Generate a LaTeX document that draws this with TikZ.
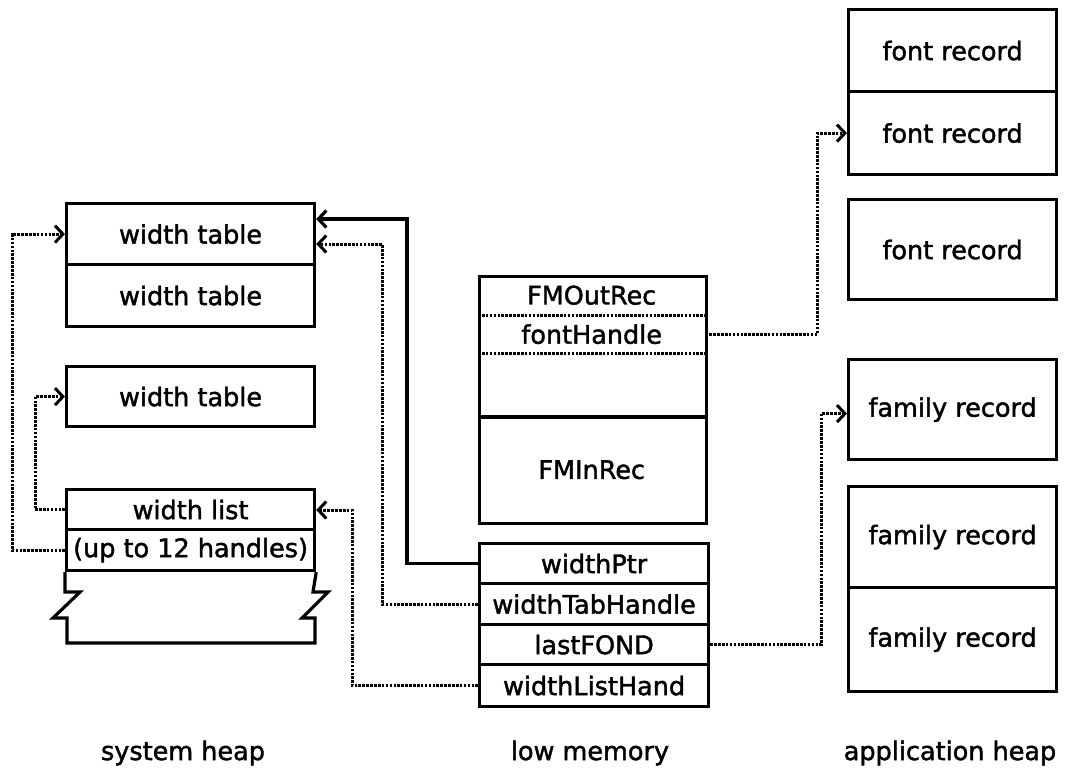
\documentclass[tikz,border=0pt]{standalone}
\usepackage{fontspec}
\setmainfont[FakeBold=1.6]{DejaVu Sans}
\usetikzlibrary{arrows.meta,calc}
\begin{document}
\begin{tikzpicture}[x=1pt,y=-1pt,
  txt/.style={font=\fontsize{25.5}{30}\selectfont},
  box/.style={txt,draw,line width=3.2pt,rectangle,inner sep=0pt,anchor=north west},
  field/.style={txt,rectangle,inner sep=0pt,anchor=north west},
  tip/.style={-{Straight Barb[length=8pt,width=17pt]}},
  link/.style={tip,line width=3.2pt},
  dotlink/.style={tip,line width=3pt,dash pattern=on 2.6pt off 1.3pt},
  dotrule/.style={line width=3pt,dash pattern=on 2.6pt off 1.3pt}]
\useasboundingbox (0,0) rectangle (1076,780);

% ---------------- system heap ----------------
\node[box,minimum width=248pt,minimum height=61pt] (wt1) at (65,202) {width table};
\node[box,minimum width=248pt,minimum height=62pt] (wt2) at (65,263) {width table};
\node[box,minimum width=248pt,minimum height=60pt] (wt3) at (65,365) {width table};
\node[box,minimum width=248pt,minimum height=40pt] (wl) at (65,488) {width list};
\node[box,minimum width=248pt,minimum height=41pt] (uth) at (65,528) {(up to 12 handles)};
% open-ended continuation of the width list
\draw[line width=3.2pt,line join=miter]
  (uth.south west) -- (65,592) -- (80,592) -- (53,618) -- (67,618) -- (67,643)
  -- (315,643) -- (315,618) -- (302,618) -- (328,592) -- (313,592) -- (uth.south east);

% ---------------- low memory ----------------
\node[draw,line width=3.2pt,rectangle,inner sep=0pt,anchor=north west,
      minimum width=227pt,minimum height=247pt] (lowA) at (478,275) {};
\node[field,minimum width=227pt,minimum height=40pt] (fmo) at (478,275) {FMOutRec};
\node[field,minimum width=227pt,minimum height=38pt] (fh) at (478,315) {fontHandle};
\node[field,minimum width=227pt,minimum height=105pt] (fmi) at (478,417) {FMInRec};
\draw[dotrule] (fh.north west) -- (fh.north east);
\draw[dotrule] (fh.south west) -- (fh.south east);
\draw[line width=3.2pt] (fmi.north west) -- (fmi.north east);

\node[box,minimum width=229pt,minimum height=40pt] (wptr) at (478,542) {widthPtr};
\node[box,minimum width=229pt,minimum height=41pt] (wth) at (478,582) {widthTabHandle};
\node[box,minimum width=229pt,minimum height=40pt] (lf) at (478,623) {lastFOND};
\node[box,minimum width=229pt,minimum height=42pt] (wlh) at (478,663) {widthListHand};

% ---------------- application heap ----------------
\node[box,minimum width=208pt,minimum height=82pt] (fr1) at (847,8) {font record};
\node[box,minimum width=208pt,minimum height=83pt] (fr2) at (847,90) {font record};
\node[box,minimum width=208pt,minimum height=100pt] (fr3) at (847,198) {font record};
\node[box,minimum width=208pt,minimum height=100pt] (fam1) at (847,358) {family record};
\node[box,minimum width=208pt,minimum height=101pt] (fam2) at (847,485) {family record};
\node[box,minimum width=208pt,minimum height=104pt] (fam3) at (847,586) {family record};

% ---------------- headings ----------------
\node[txt] (hsys) at (183,753) {system heap};
\node[txt] (hlow) at (590,753) {low memory};
\node[txt] (happ) at (950,753) {application heap};

% ---------------- connectors ----------------
\coordinate (bendA) at (407,219);
\coordinate (bendB) at (382,244);
\coordinate (bendC) at (352,510);
\draw[link,line join=miter] (wptr.west) -| (bendA) -- (wt1.east |- bendA);
\draw[dotlink] (wth.west) -| (bendB) -- (wt1.east |- bendB);
\draw[dotlink] (wlh.west) -| (bendC) -- (wl.east |- bendC);
\draw[dotlink] (uth.west) -- ++(-53,0) |- (wt1.west);
\draw[dotlink] (wl.west) -- ++(-30,0) |- (wt3.west);
\draw[dotlink] (fh.east) -- ++(112,0) |- (fr2.west);
\draw[dotlink] (lf.east) -- ++(111,0) |- ($(fam1.west)+(0,4)$);
\end{tikzpicture}
\end{document}
